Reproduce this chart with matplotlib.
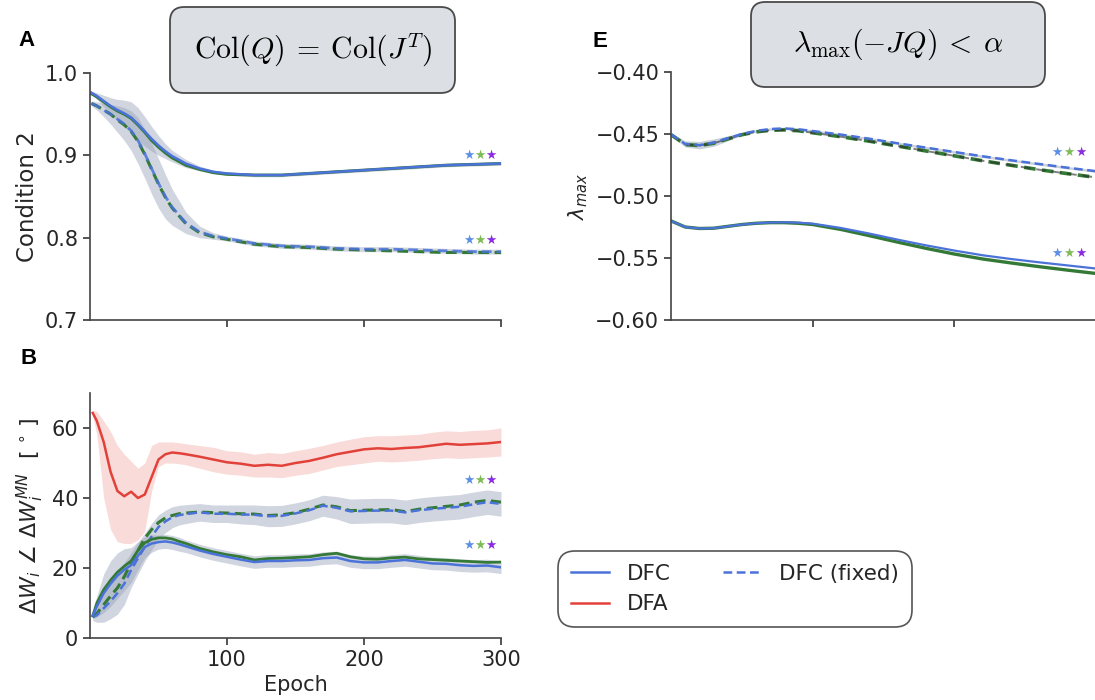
import matplotlib
matplotlib.use("Agg")
import matplotlib.pyplot as plt
from matplotlib.patches import FancyBboxPatch

# ---- data ----
# panel A: condition 2
epochs_a = [1, 5, 10, 15, 20, 25, 30, 35, 40, 45, 50, 55, 60, 70, 80, 90, 100,
            120, 140, 160, 180, 200, 220, 240, 260, 280, 300]
a_dfc = [0.976, 0.972, 0.966, 0.960, 0.955, 0.951, 0.946, 0.938, 0.929, 0.920, 0.912,
         0.905, 0.899, 0.890, 0.884, 0.880, 0.878, 0.876, 0.876, 0.878, 0.880, 0.882,
         0.884, 0.886, 0.888, 0.889, 0.890]
a_dfc_g = [0.975, 0.971, 0.965, 0.959, 0.954, 0.950, 0.945, 0.937, 0.928, 0.918, 0.910,
           0.903, 0.897, 0.888, 0.883, 0.879, 0.877, 0.876, 0.876, 0.878, 0.880, 0.882,
           0.884, 0.886, 0.888, 0.889, 0.890]
a_dfc_sd = [0.002, 0.004, 0.007, 0.010, 0.013, 0.016, 0.019, 0.020, 0.018, 0.015, 0.012,
            0.009, 0.007, 0.005, 0.003, 0.002, 0.002, 0.002, 0.002, 0.002, 0.002, 0.002,
            0.002, 0.002, 0.002, 0.002, 0.002]
a_fix = [0.963, 0.960, 0.955, 0.950, 0.944, 0.938, 0.930, 0.918, 0.902, 0.884, 0.866,
         0.850, 0.837, 0.818, 0.807, 0.802, 0.799, 0.793, 0.790, 0.789, 0.787, 0.786,
         0.786, 0.785, 0.784, 0.783, 0.783]
a_fix_g = [0.963, 0.960, 0.955, 0.950, 0.943, 0.937, 0.929, 0.917, 0.901, 0.883, 0.865,
           0.849, 0.836, 0.817, 0.806, 0.801, 0.798, 0.792, 0.789, 0.788, 0.786, 0.785,
           0.784, 0.783, 0.782, 0.782, 0.782]
a_fix_sd = [0.003, 0.005, 0.008, 0.012, 0.016, 0.020, 0.024, 0.028, 0.030, 0.031, 0.030,
            0.027, 0.022, 0.013, 0.007, 0.004, 0.003, 0.003, 0.003, 0.003, 0.003, 0.003,
            0.003, 0.003, 0.003, 0.003, 0.003]

# panel B: angle between updates and min-norm updates
epochs_b = [2, 5, 10, 15, 20, 25, 30, 35, 40, 45, 50, 55, 60, 65, 70, 80, 90, 100,
            110, 120, 130, 140, 150, 160, 170, 180, 190, 200, 210, 220, 230, 240,
            250, 260, 270, 280, 290, 300]
b_dfa = [64.3, 62.0, 56.0, 47.5, 42.0, 40.5, 41.8, 40.0, 41.0, 46.0, 51.0, 52.5, 53.0,
         52.8, 52.5, 51.8, 51.0, 50.2, 49.8, 49.2, 49.5, 49.2, 50.0, 50.6, 51.5, 52.5,
         53.2, 53.9, 54.2, 54.0, 54.3, 54.5, 55.0, 55.5, 55.2, 55.4, 55.6, 56.0]
b_dfa_lo = [63.5, 58.0, 40.0, 31.0, 27.5, 27.0, 27.0, 28.0, 30.5, 42.0, 49.0, 50.0,
            50.0, 49.8, 49.5, 48.5, 47.5, 46.8, 46.5, 46.0, 46.0, 45.8, 46.5, 47.0,
            48.0, 49.0, 49.5, 50.0, 50.5, 50.3, 50.5, 50.8, 51.2, 51.5, 51.3, 51.5,
            51.7, 52.0]
b_dfa_hi = [65.0, 64.8, 62.0, 59.0, 55.0, 52.5, 50.5, 48.5, 50.0, 55.0, 56.0, 56.0,
            56.0, 55.8, 55.5, 55.0, 54.5, 53.5, 53.2, 52.5, 53.0, 52.7, 53.5, 54.2,
            55.0, 56.0, 56.8, 57.5, 57.8, 57.8, 58.0, 58.2, 58.8, 59.2, 59.0, 59.3,
            59.5, 60.0]
b_dfc = [6.5, 9.0, 12.8, 15.5, 17.8, 19.5, 20.8, 23.5, 26.0, 27.0, 27.4, 27.6, 27.3,
         26.8, 26.2, 25.0, 24.0, 23.2, 22.4, 21.7, 22.0, 22.0, 22.2, 22.3, 22.8, 23.0,
         22.0, 21.6, 21.6, 22.0, 22.3, 21.8, 21.3, 21.2, 20.8, 20.6, 20.7, 20.2]
b_dfc_g = [6.3, 10.0, 13.8, 16.5, 18.8, 20.5, 22.0, 25.0, 27.2, 28.2, 28.6, 28.6, 28.3,
           27.6, 27.0, 25.6, 24.6, 23.8, 23.2, 22.3, 22.7, 22.8, 23.0, 23.2, 23.8, 24.2,
           23.2, 22.6, 22.5, 22.9, 23.1, 22.6, 22.4, 22.2, 22.0, 21.8, 21.6, 21.7]
b_dfc_sd = [1.0, 3.0, 5.5, 6.5, 6.5, 6.0, 5.0, 4.0, 3.0, 2.5, 2.0, 2.0, 2.0, 2.0, 1.8,
            1.8, 1.8, 1.8, 1.8, 1.8, 1.8, 1.8, 1.8, 1.8, 1.8, 1.8, 1.8, 1.8, 1.8, 1.8,
            1.8, 1.8, 1.8, 1.8, 1.8, 1.8, 1.8, 1.8]
b_fix = [6.0, 6.5, 8.5, 10.5, 12.8, 15.5, 19.4, 22.8, 26.0, 29.0, 31.7, 33.3, 34.5,
         35.1, 35.4, 35.9, 35.5, 35.5, 35.3, 35.2, 34.8, 34.9, 35.6, 36.5, 37.8, 37.2,
         36.2, 36.3, 36.4, 36.4, 35.9, 36.5, 36.9, 37.2, 37.5, 38.2, 38.8, 38.3]
b_fix_g = [6.0, 7.0, 9.5, 12.0, 14.3, 17.5, 21.5, 25.0, 28.5, 31.0, 33.0, 34.3, 35.0,
           35.5, 35.7, 36.0, 35.8, 35.7, 35.5, 35.4, 35.0, 35.2, 35.8, 36.8, 38.0, 37.5,
           36.4, 36.5, 36.6, 36.7, 36.1, 36.8, 37.2, 37.6, 38.0, 38.8, 39.3, 38.8]
b_fix_sd = [1.0, 2.0, 4.0, 5.0, 6.0, 6.0, 5.0, 4.5, 4.0, 3.8, 3.5, 3.2, 3.0, 2.8, 2.7,
            2.5, 2.5, 2.5, 2.7, 2.8, 3.0, 3.0, 3.0, 3.0, 3.0, 3.2, 3.5, 3.5, 3.5, 3.5,
            3.5, 3.5, 3.5, 3.5, 3.5, 3.5, 3.5, 3.5]

# panel E: largest eigenvalue
epochs_e = [0, 10, 20, 30, 40, 50, 60, 70, 80, 90, 100, 120, 140, 160, 180, 200,
            220, 240, 260, 280, 300]
e_fix = [-0.4503, -0.4580, -0.4590, -0.4570, -0.4535, -0.4500, -0.4475, -0.4460,
         -0.4455, -0.4462, -0.4476, -0.4505, -0.4538, -0.4575, -0.4610, -0.4645,
         -0.4680, -0.4712, -0.4742, -0.4772, -0.4800]
e_fix_g = [-0.4505, -0.4585, -0.4593, -0.4575, -0.4540, -0.4506, -0.4483, -0.4470,
           -0.4467, -0.4474, -0.4490, -0.4522, -0.4558, -0.4597, -0.4637, -0.4676,
           -0.4716, -0.4752, -0.4788, -0.4820, -0.4850]
e_fix_sd = [0.0010, 0.0025, 0.0030, 0.0030, 0.0020, 0.0012, 0.0010, 0.0010, 0.0010,
            0.0010, 0.0010, 0.0010, 0.0010, 0.0010, 0.0010, 0.0010, 0.0010, 0.0010,
            0.0010, 0.0010, 0.0010]
e_dfc = [-0.5201, -0.5250, -0.5262, -0.5260, -0.5245, -0.5230, -0.5220, -0.5214,
         -0.5212, -0.5215, -0.5223, -0.5258, -0.5303, -0.5352, -0.5398, -0.5440,
         -0.5478, -0.5508, -0.5535, -0.5560, -0.5585]
e_dfc_g = [-0.5201, -0.5250, -0.5262, -0.5260, -0.5245, -0.5230, -0.5220, -0.5215,
           -0.5215, -0.5220, -0.5230, -0.5270, -0.5320, -0.5372, -0.5422, -0.5468,
           -0.5508, -0.5540, -0.5570, -0.5598, -0.5625]

# significance stars: x positions (epochs) and y levels per panel
star_x_ab = [276.5, 284.5, 292.5]
star_x_e = [272, 280.5, 289]
star_y_a = [0.900, 0.797]
star_y_b = [44.9, 26.5]
star_y_e = [-0.465, -0.5466]
star_colors = ["#5b8ee6", "#7dbb55", "#8a2be2"]

BLUE = "#4a72d8"
GREEN = "#347a36"
RED = "#e2413a"
BAND = "#98a2b8"

W, H = 1095, 700
fig = plt.figure(figsize=(W / 100, H / 100), dpi=100)


def px(x0, y0, x1, y1):
    # pixel box (top-left origin) -> figure rect
    return [x0 / W, 1 - y1 / H, (x1 - x0) / W, (y1 - y0) / H]


def style(ax):
    for s in ["top", "right"]:
        ax.spines[s].set_visible(False)
    for s in ["left", "bottom"]:
        ax.spines[s].set_color("#444444")
        ax.spines[s].set_linewidth(1.2)
    ax.tick_params(labelsize=15, colors="#262626", length=5, width=1.1)
    ax.set_xlim(0, 300)
    ax.set_xticks([100, 200, 300])


def band(ax, x, m, sd, color, alpha):
    ax.fill_between(x, [a - b for a, b in zip(m, sd)], [a + b for a, b in zip(m, sd)],
                    color=color, alpha=alpha, lw=0)


def stars(ax, xs, ys):
    for y in ys:
        for x, c in zip(xs, star_colors):
            ax.text(x, y, "\u2605", ha="center", va="center", fontsize=9, color=c,
                    family="DejaVu Sans")


# ---- panel A ----
axA = fig.add_axes(px(90, 73, 501, 320))
style(axA)
band(axA, epochs_a, a_fix, a_fix_sd, BAND, 0.45)
band(axA, epochs_a, a_dfc, a_dfc_sd, BAND, 0.45)
axA.plot(epochs_a, a_fix_g, color=GREEN, lw=2.2, ls=(0, (3.5, 1.8)))
axA.plot(epochs_a, a_fix, color=BLUE, lw=2.0, ls=(0, (3.5, 1.8)), alpha=0.85)
axA.plot(epochs_a, a_dfc_g, color=GREEN, lw=2.2)
axA.plot(epochs_a, a_dfc, color=BLUE, lw=1.8)
axA.set_ylim(0.7, 1.0)
axA.set_yticks([0.7, 0.8, 0.9, 1.0])
axA.tick_params(labelbottom=False)
axA.set_ylabel("Condition 2", fontsize=16.5, color="#262626")
stars(axA, star_x_ab, star_y_a)

# ---- panel B ----
axB = fig.add_axes(px(90, 393, 501, 638))
style(axB)
axB.fill_between(epochs_b, b_dfa_lo, b_dfa_hi, color="#f6c4c0", alpha=0.6, lw=0)
band(axB, epochs_b, b_fix, b_fix_sd, BAND, 0.45)
band(axB, epochs_b, b_dfc, b_dfc_sd, BAND, 0.45)
axB.plot(epochs_b, b_dfa, color=RED, lw=1.8, label="DFA")
axB.plot(epochs_b, b_fix_g, color=GREEN, lw=2.2, ls=(0, (3.5, 1.8)))
axB.plot(epochs_b, b_fix, color=BLUE, lw=1.8, ls=(0, (3.5, 1.8)), label="DFC (fixed)")
axB.plot(epochs_b, b_dfc_g, color=GREEN, lw=2.0)
axB.plot(epochs_b, b_dfc, color=BLUE, lw=1.8, label="DFC")
axB.set_ylim(0, 70)
axB.set_yticks([0, 20, 40, 60])
axB.set_xlabel("Epoch", fontsize=15, color="#262626")
axB.set_ylabel(r"$\Delta W_i\ \angle\ \Delta W_i^{MN}\ \ [\,^\circ\,]$", fontsize=16,
               color="#262626")
stars(axB, star_x_ab, star_y_b)

# ---- panel E ----
axE = fig.add_axes(px(671, 72, 1096, 320))
style(axE)
band(axE, epochs_e, e_fix, e_fix_sd, BAND, 0.5)
axE.plot(epochs_e, e_fix_g, color=GREEN, lw=2.6, ls=(0, (3.2, 1.8)))
axE.plot(epochs_e, e_fix_g, color="#2b2b2b", lw=1.4, ls=(0, (5, 3)), alpha=0.6)
axE.plot(epochs_e, e_fix, color=BLUE, lw=1.8, ls=(0, (3.5, 1.8)))
axE.plot(epochs_e, e_dfc_g, color=GREEN, lw=2.4)
axE.plot(epochs_e, e_dfc, color=BLUE, lw=1.6)
axE.set_ylim(-0.60, -0.40)
axE.set_yticks([-0.60, -0.55, -0.50, -0.45, -0.40])
axE.tick_params(labelbottom=False)
axE.set_ylabel(r"$\lambda_{max}$", fontsize=15, color="#262626")
stars(axE, star_x_e, star_y_e)

# ---- panel letters ----
for x, y, s in [(18, 46, "A"), (20, 364, "B"), (592, 47, "E")]:
    fig.text(x / W, 1 - y / H, s, fontsize=16, fontweight="bold", family="Liberation Sans")

# ---- condition boxes ----
titles = [(170, 7, 455, 93, r"$\mathrm{Col}(Q)\:=\:\mathrm{Col}(J^T)$"),
          (751, 2, 1045, 87, r"$\lambda_{\max}(-JQ)\:<\:\alpha$")]
for x0, y0, x1, y1, s in titles:
    r = px(x0, y0, x1, y1)
    fig.add_artist(FancyBboxPatch((r[0], r[1]), r[2], r[3], transform=fig.transFigure,
                                  boxstyle="round,pad=0,rounding_size=0.013",
                                  mutation_aspect=W / H, facecolor="#dcdfe3",
                                  edgecolor="#4a4a4a", lw=1.3))
    fig.text(r[0] + r[2] / 2, r[1] + r[3] / 2, s, fontsize=21.5, ha="center", va="center",
             math_fontfamily="cm")

# ---- legend ----
h, l = axB.get_legend_handles_labels()
order = [2, 0, 1]
leg = fig.legend([h[i] for i in order], [l[i] for i in order], ncol=2,
                 loc="center", bbox_to_anchor=(547 / W, 1 - 632 / H, 376 / W, 86 / H),
                 mode="expand", fontsize=15.5, handlelength=1.8, frameon=True,
                 edgecolor="#555555", framealpha=1, borderpad=0.6, labelspacing=0.5)
leg.get_frame().set_boxstyle("round,pad=0,rounding_size=0.8")
leg.get_frame().set_linewidth(1.2)
for t in leg.get_texts():
    t.set_color("#262626")

fig.savefig("out.png", dpi=100)
